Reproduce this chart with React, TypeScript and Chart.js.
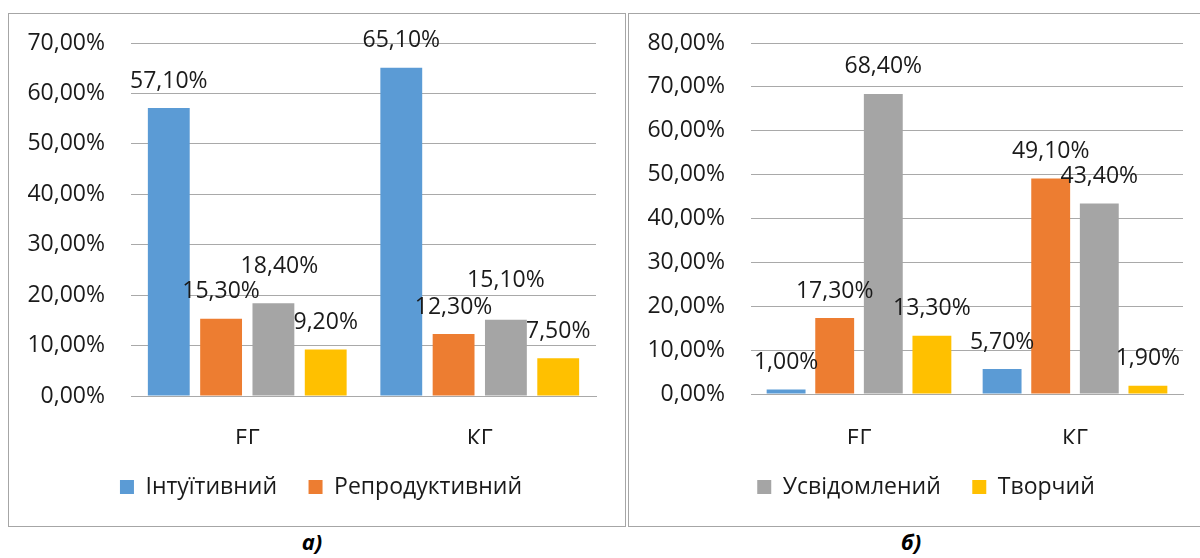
import React, { useEffect, useRef } from "react";
import { Chart, registerables } from "chart.js";

Chart.register(...registerables);

// ---------- data ----------
const categories = ["ЕГ", "КГ"];
const seriesNames = ["Інтуїтивний", "Репродуктивний", "Усвідомлений", "Творчий"];
const seriesColors = ["#5b9bd5", "#ed7d31", "#a5a5a5", "#ffc000"];

// panel а)
const intuitiveA = [57.1, 65.1];
const reproductiveA = [15.3, 12.3];
const consciousA = [18.4, 15.1];
const creativeA = [9.2, 7.5];
const yTicksA = [0, 10, 20, 30, 40, 50, 60, 70];
const legendShownA = [0, 1];

// panel б)
const intuitiveB = [1.0, 5.7];
const reproductiveB = [17.3, 49.1];
const consciousB = [68.4, 43.4];
const creativeB = [13.3, 1.9];
const yTicksB = [0, 10, 20, 30, 40, 50, 60, 70, 80];
const legendShownB = [2, 3];

// ---------- styles ----------
const FONT = "'Open Sans', sans-serif";
const FSIZE = 23;
const TEXT = "#1a1a1a";
const GRID = "#a9a9a9";
const BORDER = "#a6a6a6";

const fmt = (v: number) => v.toFixed(2).replace(".", ",") + "%";

const valueLabels = {
  id: "valueLabels",
  afterDatasetsDraw(chart: any, _args: any, opts: any) {
    const { ctx } = chart;
    ctx.save();
    ctx.font = `${FSIZE}px ${FONT}`;
    ctx.fillStyle = TEXT;
    ctx.textAlign = "center";
    ctx.textBaseline = "middle";
    chart.data.datasets.forEach((ds: any, di: number) => {
      const meta = chart.getDatasetMeta(di);
      meta.data.forEach((bar: any, i: number) => {
        const n = (opts.nudges && opts.nudges[di] && opts.nudges[di][i]) || [0, 0];
        ctx.fillText(fmt(ds.data[i]), bar.x + n[0], bar.y - opts.offset + n[1]);
      });
    });
    ctx.restore();
  },
};

type PanelProps = {
  left: number;
  top: number;
  w: number;
  h: number;
  borderRight: boolean;
  series: number[][];
  yTicks: number[];
  legendShown: number[];
  plotLeft: number;
  plotRight: number;
  plotTop: number;
  plotBottom: number;
  xLabelCenter: number;
  xAxisBottom: number;
  legendCenterY: number;
  legendContentCenterX: number;
  nudges?: any;
};

function ChartPanel(p: PanelProps) {
  const ref = useRef<HTMLCanvasElement | null>(null);
  useEffect(() => {
    if (!ref.current) return;
    const legendItemH = FSIZE;
    const xHeight = p.xAxisBottom - p.plotBottom;
    const legendTop = p.xAxisBottom;
    const legendPad = p.legendCenterY - legendItemH / 2 - legendTop;
    const legendH = legendItemH + legendPad + 10;
    const padBottom = p.h - (legendTop + legendH);
    const xPad = p.xLabelCenter - p.plotBottom - FSIZE / 2;
    const boxWidth = 2 * p.legendContentCenterX;
    const padRight = p.w - boxWidth;
    const rightAxisW = boxWidth - p.plotRight;

    const chart = new Chart(ref.current, {
      type: "bar",
      data: {
        labels: categories,
        datasets: p.series.map((d, i) => ({
          label: seriesNames[i],
          data: d,
          backgroundColor: seriesColors[i],
          borderWidth: 0,
          categoryPercentage: 0.9,
          barPercentage: 0.8,
        })),
      },
      options: {
        animation: false,
        responsive: false,
        maintainAspectRatio: false,
        layout: { padding: { left: 0, right: padRight, top: p.plotTop, bottom: padBottom } },
        scales: {
          x: {
            grid: { display: false },
            border: { display: true, color: GRID, width: 1 },
            ticks: {
              font: { family: FONT, size: FSIZE, lineHeight: 1 },
              color: TEXT,
              padding: xPad,
            },
            afterFit: (s: any) => {
              s.height = xHeight;
            },
          },
          y: {
            min: p.yTicks[0],
            max: p.yTicks[p.yTicks.length - 1],
            afterBuildTicks: (s: any) => {
              s.ticks = p.yTicks.map((v) => ({ value: v }));
            },
            grid: {
              color: GRID,
              lineWidth: 1,
              drawTicks: true,
              tickLength: 26,
              tickColor: "rgba(0,0,0,0)",
            },
            border: { display: false },
            ticks: {
              font: { family: FONT, size: FSIZE },
              color: TEXT,
              padding: 0,
              callback: (v: any) => fmt(Number(v)),
            },
            afterFit: (s: any) => {
              s.width = p.plotLeft;
            },
          },
          yRight: {
            position: "right",
            display: true,
            grid: { display: false },
            border: { display: false },
            ticks: { display: false },
            afterFit: (s: any) => {
              s.width = rightAxisW;
            },
          },
        },
        plugins: {
          legend: {
            position: "bottom",
            labels: {
              font: { family: FONT, size: FSIZE },
              color: TEXT,
              boxWidth: 14,
              boxHeight: 14,
              padding: legendPad,
              filter: (item: any) => p.legendShown.includes(item.datasetIndex),
            },
          },
          tooltip: { enabled: false },
          valueLabels: { offset: 27, nudges: p.nudges || {} },
        } as any,
      },
      plugins: [valueLabels as any],
    });
    return () => chart.destroy();
  }, []);

  return (
    <div
      style={{
        position: "absolute",
        left: p.left,
        top: p.top,
        width: p.w,
        height: p.h,
        borderTop: `1px solid ${BORDER}`,
        borderLeft: `1px solid ${BORDER}`,
        borderBottom: `1px solid ${BORDER}`,
        borderRight: p.borderRight ? `1px solid ${BORDER}` : "none",
        background: "#fff",
        overflow: "hidden",
      }}
    >
      <canvas ref={ref} width={p.w} height={p.h} style={{ display: "block", width: p.w, height: p.h }} />
    </div>
  );
}

const captionStyle: React.CSSProperties = {
  position: "absolute",
  width: 100,
  textAlign: "center",
  fontFamily: FONT,
  fontWeight: 700,
  fontStyle: "italic",
  fontSize: 22,
  lineHeight: "22px",
  color: "#000",
};

export default function App() {
  return (
    <div
      style={{
        position: "absolute",
        left: 0,
        top: 0,
        width: 1200,
        height: 558,
        overflow: "hidden",
        background: "#fff",
      }}
    >
      <ChartPanel
        left={8}
        top={13}
        w={616}
        h={512}
        borderRight={true}
        series={[intuitiveA, reproductiveA, consciousA, creativeA]}
        yTicks={yTicksA}
        legendShown={legendShownA}
        plotLeft={122}
        plotRight={587}
        plotTop={29}
        plotBottom={382}
        xLabelCenter={417}
        xAxisBottom={430}
        legendCenterY={473}
        legendContentCenterX={312}
        nudges={{ 2: [[6, -10], [0, -12]] }}
      />
      <ChartPanel
        left={628}
        top={13}
        w={571}
        h={512}
        borderRight={false}
        series={[intuitiveB, reproductiveB, consciousB, creativeB]}
        yTicks={yTicksB}
        legendShown={legendShownB}
        plotLeft={122}
        plotRight={554}
        plotTop={29}
        plotBottom={380}
        xLabelCenter={417}
        xAxisBottom={430}
        legendCenterY={473}
        legendContentCenterX={297}
      />
      <div style={{ ...captionStyle, left: 262, top: 530 }}>а)</div>
      <div style={{ ...captionStyle, left: 861, top: 530 }}>б)</div>
    </div>
  );
}
